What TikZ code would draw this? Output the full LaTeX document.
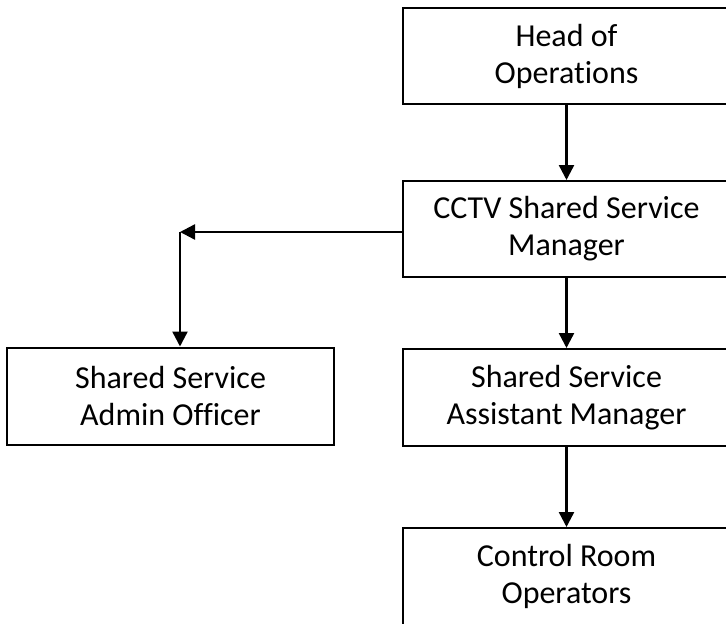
\documentclass[tikz,border=0pt]{standalone}
\usepackage{fontspec}
\setmainfont[Ligatures=NoCommon]{Carlito}
\usetikzlibrary{arrows.meta}
\tikzset{
  box/.style={draw=black, line width=2pt, minimum width=327pt, minimum height=96pt, align=center, inner sep=0pt, font=\fontsize{32}{37}\selectfont},
  conn/.style={draw=black, line width=2.4pt, -{Triangle[length=15pt,width=15pt]}}
}
\begin{document}
\begin{tikzpicture}[x=1pt,y=1pt]
\useasboundingbox (0,0) rectangle (726,-624);
\fill[white] (0,0) rectangle (726,-624);
\node[box] (head) at (566.5,-56) {Head of\\Operations};
\node[box] (cctv) at (566.5,-229) {CCTV Shared Service\\Manager};
\node[box, minimum height=97pt] (ssam) at (566.5,-397.5) {Shared Service\\Assistant Manager};
\node[box, minimum height=97pt] (cro) at (566.5,-576.5) {Control Room\\Operators};
\node[box, minimum height=97pt] (admin) at (170.5,-396) {Shared Service\\Admin Officer};
\coordinate (corner) at (180,-232);
\draw[conn] (head.south) -- (cctv.north);
\draw[conn] (cctv.south) -- (ssam.north);
\draw[conn] (ssam.south) -- (cro.north);
\draw[conn] (cctv.west |- corner) -- (corner);
\draw[conn] (corner) -- (corner |- admin.north);
\end{tikzpicture}
\end{document}
